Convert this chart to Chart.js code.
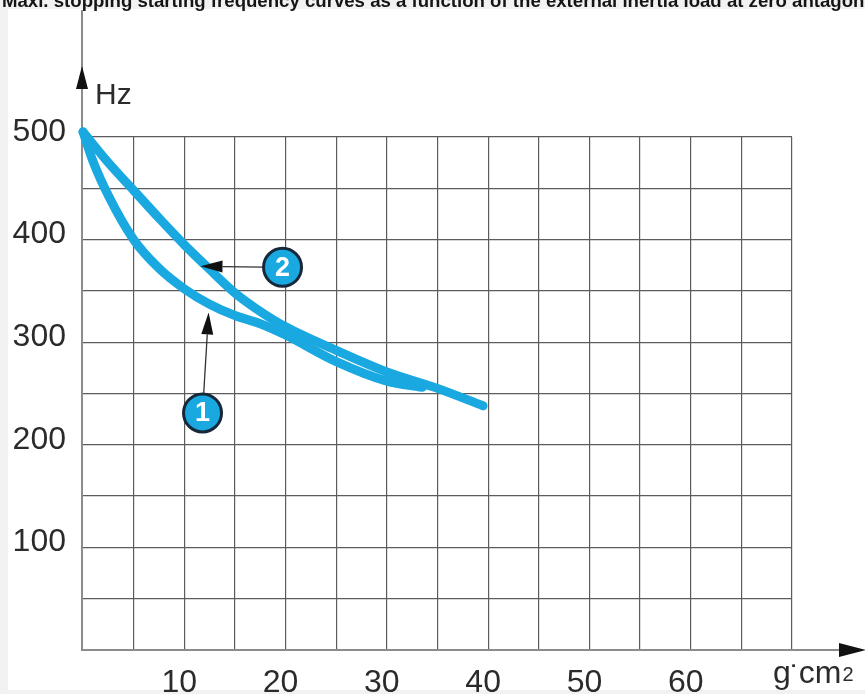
<!DOCTYPE html>
<html>
<head>
<meta charset="utf-8">
<script src="https://cdn.jsdelivr.net/npm/chart.js@4"></script>
<style>
  html, body { margin: 0; padding: 0; background: #f2f2f2; }
  canvas { display: block; }
</style>
</head>
<body>
<canvas id="chart" width="865" height="694"></canvas>
<script>
// curve 1 (lower one near the start)
const inertia1 = [0, 1, 2.5, 5, 7.5, 10, 12.5, 15, 17.5, 20, 25, 30, 33.5];
const freq1 = [505, 476, 443, 400, 372, 352, 337, 326, 318, 307, 281, 262, 256];
// curve 2 (upper one)
const inertia2 = [0, 2.5, 5, 7.5, 10, 12.5, 15, 17.5, 20, 25, 30, 35, 39.5];
const freq2 = [505, 475, 448, 421, 395, 371, 348, 330, 315, 292, 271, 255, 238];

const xTicks = [10, 20, 30, 40, 50, 60];
const yTicks = [100, 200, 300, 400, 500];

// numbered callouts: label centre and arrow tip, in data units
const callouts = [
  { num: '1', x: 11.8, y: 231, tipX: 12.4, tipY: 329 },
  { num: '2', x: 19.7, y: 373, tipX: 11.6, tipY: 374 }
];

const title = 'Maxi. stopping starting frequency curves as a function of the external inertia load at zero antagonism torque';
const blue = '#1aa8e0';
const fontFamily = '"Liberation Sans", Arial, Helvetica, sans-serif';

const toPoints = (xs, ys) => xs.map((x, i) => ({ x: x, y: ys[i] }));

const extras = {
  id: 'extras',
  beforeDraw(chart) {
    const c = chart.ctx;
    c.save();
    c.fillStyle = '#fff';
    c.fillRect(8, 9, chart.width - 8, chart.height - 13);
    c.restore();
  },
  beforeDatasetsDraw(chart) {
    const c = chart.ctx;
    const x0 = chart.scales.x.getPixelForValue(0) - 1;
    const y0 = chart.scales.y.getPixelForValue(0);
    c.save();
    c.strokeStyle = '#8c8c8c';
    c.lineWidth = 2;
    c.beginPath();
    c.moveTo(x0, 10);
    c.lineTo(x0, y0);
    c.lineTo(845, y0);
    c.stroke();
    // arrow heads
    c.fillStyle = '#111';
    c.beginPath();
    c.moveTo(x0, 66);
    c.lineTo(x0 - 6, 89);
    c.lineTo(x0 + 6, 89);
    c.closePath();
    c.fill();
    c.beginPath();
    c.moveTo(866, y0);
    c.lineTo(839, y0 - 7);
    c.lineTo(839, y0 + 7);
    c.closePath();
    c.fill();
    // unit labels
    c.fillStyle = '#2b2b2b';
    c.font = '30px ' + fontFamily;
    c.textBaseline = 'alphabetic';
    c.fillText('Hz', 95, 104);
    c.font = '32px ' + fontFamily;
    let ux = 773;
    const ub = 683;
    c.fillText('g', ux, ub);
    ux += c.measureText('g').width;
    c.fillText('\u02D9', ux - 1, ub + 4);
    ux += 8;
    c.fillText('cm', ux, ub);
    ux += c.measureText('cm').width + 1;
    c.font = '20px ' + fontFamily;
    c.fillText('2', ux, ub - 2);
    c.restore();
  },
  afterDraw(chart) {
    const c = chart.ctx;
    const sx = chart.scales.x, sy = chart.scales.y;
    c.save();
    callouts.forEach(co => {
      const cx = sx.getPixelForValue(co.x), cy = sy.getPixelForValue(co.y);
      const tx = sx.getPixelForValue(co.tipX), ty = sy.getPixelForValue(co.tipY);
      const r = 19;
      const ang = Math.atan2(ty - cy, tx - cx);
      const headLen = 22, headW = 6;
      const bx = tx - headLen * Math.cos(ang), by = ty - headLen * Math.sin(ang);
      c.strokeStyle = '#333';
      c.lineWidth = 1.3;
      c.beginPath();
      c.moveTo(cx + r * Math.cos(ang), cy + r * Math.sin(ang));
      c.lineTo(bx, by);
      c.stroke();
      c.fillStyle = '#111';
      c.beginPath();
      c.moveTo(tx, ty);
      c.lineTo(bx + headW * Math.sin(ang), by - headW * Math.cos(ang));
      c.lineTo(bx - headW * Math.sin(ang), by + headW * Math.cos(ang));
      c.closePath();
      c.fill();
      c.beginPath();
      c.arc(cx, cy, r, 0, Math.PI * 2);
      c.fillStyle = blue;
      c.fill();
      c.lineWidth = 3;
      c.strokeStyle = '#16283a';
      c.stroke();
      c.fillStyle = '#fff';
      c.font = 'bold 27px "Liberation Sans Narrow", "Liberation Sans", Arial, sans-serif';
      c.textAlign = 'center';
      c.textBaseline = 'middle';
      c.fillText(co.num, cx, cy + 1);
    });
    // title, cut off by the top edge; sized so "load" starts near x=684
    c.fillStyle = '#151515';
    c.textAlign = 'left';
    c.textBaseline = 'alphabetic';
    c.font = 'bold 100px ' + fontFamily;
    const prefix = title.slice(0, title.indexOf('load'));
    const size = 100 * 682 / c.measureText(prefix).width;
    c.font = 'bold ' + size.toFixed(2) + 'px ' + fontFamily;
    c.fillText(title, 2, 7);
    c.restore();
  }
};

const gridColor = ctx => (ctx.tick && ctx.tick.value === 0) ? 'rgba(0,0,0,0)' : '#5c5c5c';

const lineStyle = {
  borderColor: blue,
  borderWidth: 9,
  pointRadius: 0,
  cubicInterpolationMode: 'monotone',
  borderCapStyle: 'round',
  borderJoinStyle: 'round',
  fill: false
};

new Chart(document.getElementById('chart'), {
  type: 'line',
  data: {
    datasets: [
      Object.assign({ label: '1', data: toPoints(inertia1, freq1) }, lineStyle),
      Object.assign({ label: '2', data: toPoints(inertia2, freq2) }, lineStyle)
    ]
  },
  options: {
    responsive: false,
    animation: false,
    clip: false,
    layout: { padding: { left: 0, top: 137, right: 73, bottom: 0 } },
    plugins: {
      legend: { display: false },
      tooltip: { enabled: false }
    },
    scales: {
      x: {
        type: 'linear',
        min: 0,
        max: 70,
        afterFit(s) { s.height = 44; },
        border: { display: false },
        grid: { color: gridColor, lineWidth: 1.2, drawTicks: false },
        ticks: {
          stepSize: 5,
          autoSkip: false,
          maxRotation: 0,
          padding: 14,
          labelOffset: -5,
          color: '#2b2b2b',
          font: { size: 32, family: fontFamily },
          callback: v => xTicks.includes(v) ? String(v) : ''
        }
      },
      y: {
        min: 0,
        max: 500,
        afterFit(s) { s.width = 83; },
        border: { display: false },
        grid: { color: gridColor, lineWidth: 1.2, drawTicks: false },
        ticks: {
          stepSize: 50,
          autoSkip: false,
          padding: 17,
          labelOffset: -5,
          color: '#2b2b2b',
          font: { size: 32, family: fontFamily },
          callback: v => yTicks.includes(v) ? String(v) : ''
        }
      }
    }
  },
  plugins: [extras]
});
</script>
</body>
</html>
